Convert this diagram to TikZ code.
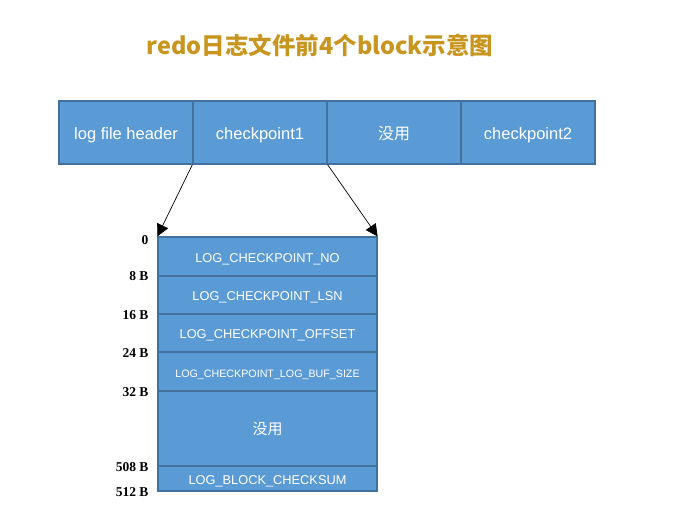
\documentclass[tikz,border=0pt]{standalone}
\usepackage{fontspec}
\setmainfont{Liberation Sans}
\newfontfamily\cjk{Noto Sans CJK SC}
\newfontfamily\tms{Liberation Serif}
\usetikzlibrary{arrows.meta}
\definecolor{cellfill}{HTML}{5B9BD5}
\definecolor{cellline}{HTML}{41719C}
\definecolor{titlecol}{HTML}{C8961E}
\tikzset{
  cell/.style={draw=cellline, line width=1.2pt, fill=cellfill, text=white, inner sep=0pt},
  topcell/.style={cell, minimum width=134pt, minimum height=63pt, text height=14pt, text depth=0.5pt},
  rowcell/.style={cell, minimum width=219pt, text height=12pt, text depth=0.4pt},
  off/.style={anchor=east, font=\tms\bfseries\fontsize{13.5}{15}\selectfont},
  arr/.style={-{Triangle[length=12pt,width=12pt]}, line width=0.7pt},
}
\begin{document}
\begin{tikzpicture}[x=1pt,y=-1pt]
\useasboundingbox (0,0) rectangle (676,528);
\fill[white] (0,0) rectangle (676,528);
\node[font=\cjk\bfseries\fontsize{23.5}{26}\selectfont, text=titlecol] (title) at (320,45) {redo日志文件前4个block示意图};
% top row
\node[topcell, font=\fontsize{16.5}{19}\selectfont] (h) at (126,132.5) {log file header};
\node[topcell, font=\fontsize{16.5}{19}\selectfont] (c1) at (260,132.5) {checkpoint1};
\node[topcell, font=\cjk\fontsize{16}{19}\selectfont] (u) at (394,132.5) {没用};
\node[topcell, font=\fontsize{16.5}{19}\selectfont] (c2) at (528,132.5) {checkpoint2};
% bottom block
\node[rowcell, minimum height=39pt, font=\fontsize{12.8}{15}\selectfont] (r1) at (267.5,256.5) {LOG\_CHECKPOINT\_NO};
\node[rowcell, minimum height=38pt, font=\fontsize{12.8}{15}\selectfont] (r2) at (267.5,295) {LOG\_CHECKPOINT\_LSN};
\node[rowcell, minimum height=38pt, font=\fontsize{12.8}{15}\selectfont] (r3) at (267.5,333) {LOG\_CHECKPOINT\_OFFSET};
\node[rowcell, minimum height=39pt, font=\fontsize{10.7}{13}\selectfont] (r4) at (267.5,371.5) {LOG\_CHECKPOINT\_LOG\_BUF\_SIZE};
\node[rowcell, minimum height=75pt, font=\cjk\fontsize{15}{17}\selectfont] (r5) at (267.5,428.5) {没用};
\node[rowcell, minimum height=25pt, font=\fontsize{12.8}{15}\selectfont] (r6) at (267.5,478.5) {LOG\_BLOCK\_CHECKSUM};
% offsets
\node[off] (o0) at (152,240) {0};
\node[off] (o8) at (152,276) {8 B};
\node[off] (o16) at (152,315) {16 B};
\node[off] (o24) at (152,353) {24 B};
\node[off] (o32) at (152,392) {32 B};
\node[off] (o508) at (152,467) {508 B};
\node[off] (o512) at (152,492) {512 B};
% arrows
\draw[arr] (c1.south west) -- (r1.north west);
\draw[arr] (c1.south east) -- (r1.north east);
\end{tikzpicture}
\end{document}
